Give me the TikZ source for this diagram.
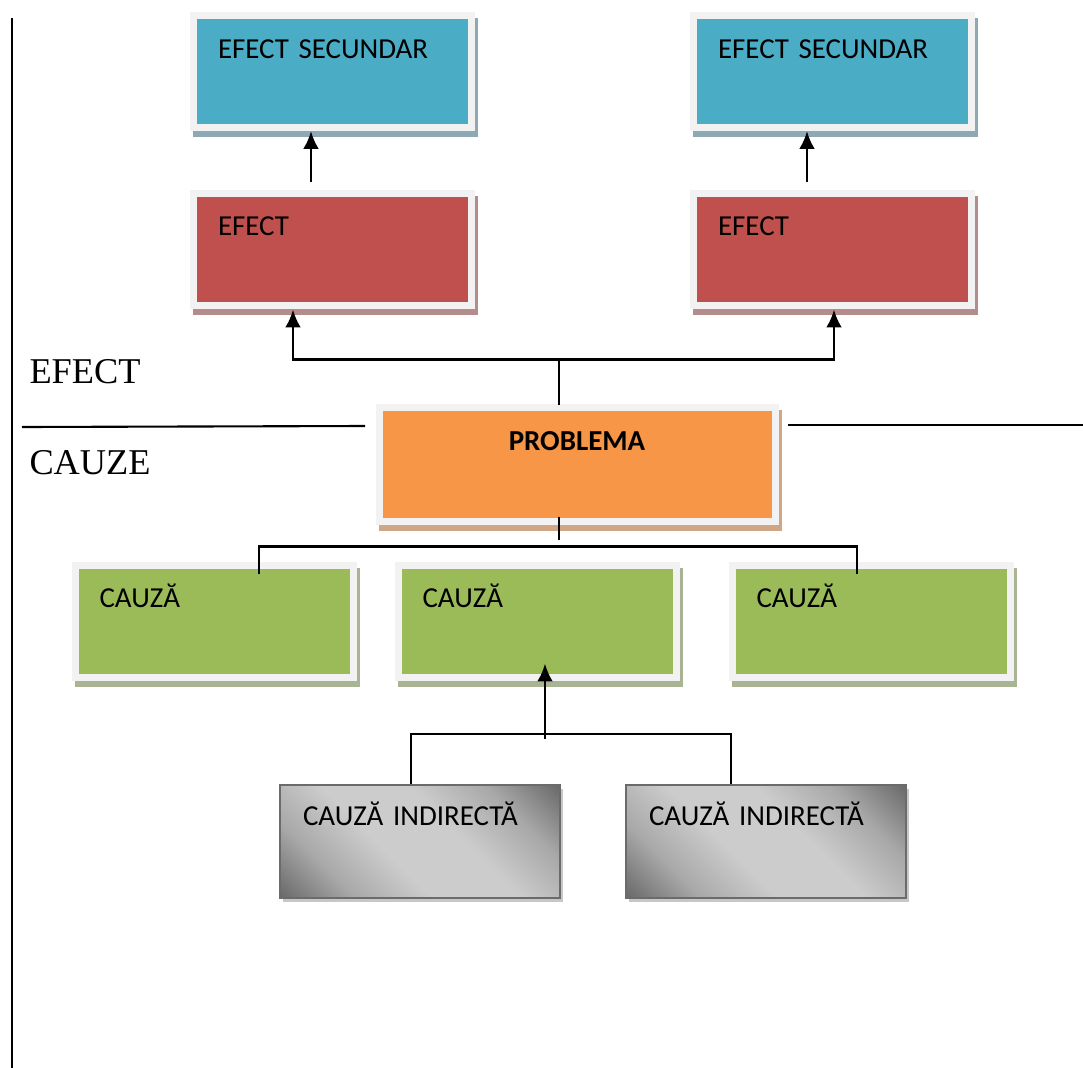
\documentclass[tikz,border=0pt]{standalone}
\usepackage{fontspec}
\setmainfont{Carlito}
\newfontfamily\timesfont{Liberation Serif}
\usepackage{tikz}
\usetikzlibrary{shapes,arrows.meta,shadows,calc}
\definecolor{frame}{HTML}{F2F2F2}
\definecolor{aqua}{HTML}{4BACC6}
\definecolor{aquashadow}{HTML}{8EA9B4}
\definecolor{redbox}{HTML}{C0504D}
\definecolor{redshadow}{HTML}{B48C8C}
\definecolor{orangebox}{HTML}{F79646}
\definecolor{orangeshadow}{HTML}{D0A684}
\definecolor{greenbox}{HTML}{9BBB59}
\definecolor{greenshadow}{HTML}{A9B495}
\definecolor{indark}{gray}{0.40}
\definecolor{inmid}{gray}{0.66}
\definecolor{inlight}{gray}{0.80}
\pgfdeclareverticalshading{indshade}{100bp}{color(0bp)=(indark); color(14bp)=(indark);
        color(28bp)=(inmid); color(42bp)=(inlight); color(58bp)=(inlight); color(72bp)=(inmid);
        color(86bp)=(indark); color(100bp)=(indark)}
\tikzset{casted/.style={drop shadow={shadow xshift=1.14pt, shadow yshift=-2.28pt,
        opacity=1, fill=#1, draw=#1, line width=2.66pt}}}
\tikzstyle{block} =
        [
                rectangle,
                draw = frame,
                line width = 2.66pt,
                minimum width = 105.64pt,
                minimum height = 42.56pt,
                inner xsep = 9.31pt,
                inner ysep = 0pt,
                text width = 87pt,
                text height = 16.15pt,
                text depth = 26.41pt,
                align = left,
                node distance = 67.45pt,
                font = \fontsize{11}{13}\selectfont
        ]
\tikzstyle{problemblock} =
        [
                block,
                minimum width = 150.48pt,
                minimum height = 43.32pt,
                text width = 131.86pt,
                text height = 16.34pt,
                text depth = 26.98pt,
                align = center,
                font = \fontsize{11}{13}\selectfont\bfseries
        ]
\tikzstyle{indirect} =
        [
                rectangle,
                draw = black!58,
                line width = 0.76pt,
                shade,
                shading = indshade,
                shading angle = -45,
                drop shadow = {shadow xshift=1.3pt, shadow yshift=-1.7pt,
                        opacity=1, fill=black!22},
                minimum width = 106.4pt,
                minimum height = 42.94pt,
                inner xsep = 8.74pt,
                inner ysep = 0pt,
                text width = 88.92pt,
                text height = 15.2pt,
                text depth = 27.74pt,
                align = left,
                font = \fontsize{11}{13}\selectfont
        ]
\tikzstyle{sidelabel} =
        [
                anchor = base west,
                inner sep = 0pt,
                font = \timesfont\fontsize{13.8}{16}\selectfont
        ]
\tikzstyle{line} =
        [
                line width = 0.8pt,
                draw = black
        ]
\tikzstyle{arrline} =
        [
                line width = 1.1pt,
                draw = black,
                -{Latex[length=6.8pt, width=6pt]}
        ]
\begin{document}
\begin{tikzpicture}[x=0.38pt, y=-0.38pt]
    \useasboundingbox (0,0) rectangle (1083,1068);
    \draw [line] (12,18) -- (12,1068);
    \draw [line] (22,427) -- (365,426);
    \draw [line] (788,425) -- (1083,425);
    \node [sidelabel] (efectlabel) at (29,383) {EFECT};
    \node [sidelabel] (cauzelabel) at (29,474) {CAUZE};

    % efecte
    \node [block, fill=redbox, casted=redshadow] (efl) at (332.5,249) {EFECT};
    \node [block, fill=redbox, casted=redshadow] (efr) at (832.5,249) {EFECT};
    \node [block, fill=aqua, casted=aquashadow, above of=efl] (esl) {EFECT SECUNDAR};
    \node [block, fill=aqua, casted=aquashadow, above of=efr] (esr) {EFECT SECUNDAR};

    % problema
    \node [problemblock, fill=orangebox, casted=orangeshadow] (problem) at (577,464) {PROBLEMA};

    % cauze
    \node [block, fill=greenbox, casted=greenshadow] (cl) at (214,621) {CAUZĂ};
    \node [block, fill=greenbox, casted=greenshadow] (cm) at (537,621) {CAUZĂ};
    \node [block, fill=greenbox, casted=greenshadow] (cr) at (871,621) {CAUZĂ};
    \node [indirect] (indl) at (420,841.5) {CAUZĂ INDIRECTĂ};
    \node [indirect] (indr) at (766,841.5) {CAUZĂ INDIRECTĂ};

    \draw [arrline] ($(efl.north)+(-21.5,-8)$) -- ($(esl.south)+(-21.5,0)$);
    \draw [arrline] ($(efr.north)+(-25.5,-8)$) -- ($(esr.south)+(-25.5,0)$);
    \coordinate (efork) at ($(problem.north)+(-18,-44)$);
    \draw [line] ($(problem.north)+(-18,1)$) -- (efork);
    \draw [arrline] (efork) -| ($(efl.south)+(-39.5,1)$);
    \draw [arrline] (efork) -| ($(efr.south)+(1.5,1)$);
    \draw [line] ($(problem.south)+(-18,-8)$) -- ++(0,23);
    \draw [line] ($(cl.north)+(45,12.5)$) |- ($(cr.north)+(-14,-15)$) -- ($(cr.north)+(-14,12.5)$);
    \draw [line] ($(indl.north)+(-9,0)$) |- ($(indr.north)+(-35,-50)$) -- ($(indr.north)+(-35,0)$);
    \draw [arrline] ($(cm.south)+(8,58)$) -- ($(cm.south)+(8,-17)$);
\end{tikzpicture}
\end{document}
